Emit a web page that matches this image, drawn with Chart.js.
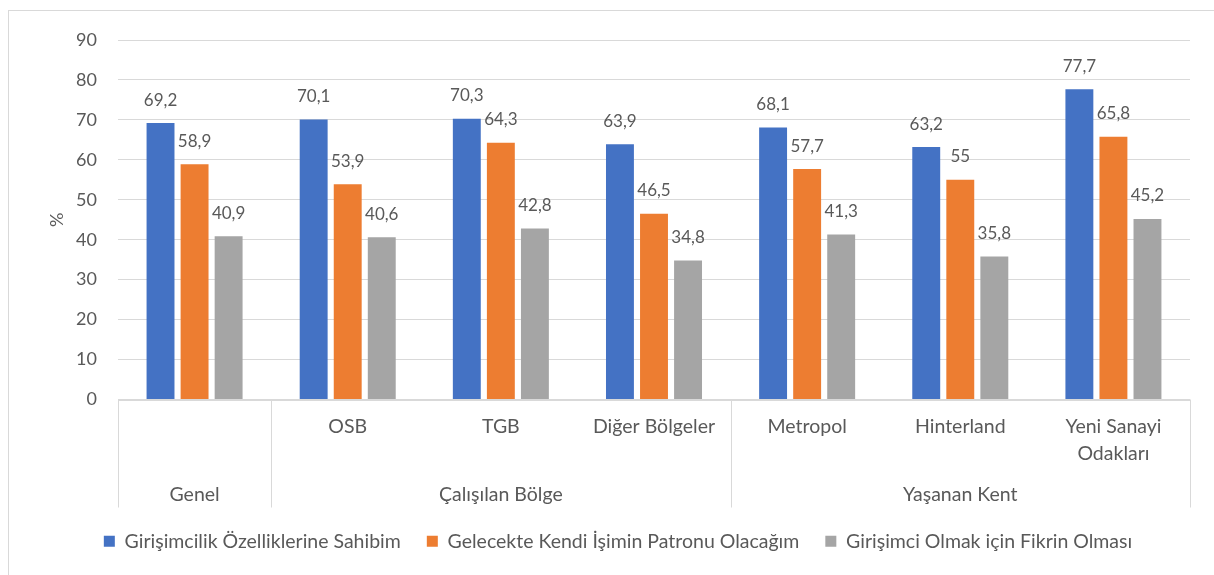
<!DOCTYPE html>
<html>
<head>
<meta charset="utf-8">
<script src="https://cdn.jsdelivr.net/npm/chart.js@4/dist/chart.umd.min.js"></script>
<style>
  html, body { margin: 0; padding: 0; background: #ffffff; }
  #wrap { position: absolute; left: 0; top: 0; width: 1214px; height: 575px; }
</style>
</head>
<body>
<div id="wrap"><canvas id="c" width="1214" height="575"></canvas></div>
<script>
const categories = ['Genel', 'OSB', 'TGB', 'Diğer Bölgeler', 'Metropol', 'Hinterland', 'Yeni Sanayi Odakları'];
const subLabels = [[], ['OSB'], ['TGB'], ['Diğer Bölgeler'], ['Metropol'], ['Hinterland'], ['Yeni Sanayi', 'Odakları']];
const groupLabels = ['Genel', 'Çalışılan Bölge', 'Yaşanan Kent'];
const groupSizes = [1, 3, 3];
const seriesNames = ['Girişimcilik Özelliklerine Sahibim', 'Gelecekte Kendi İşimin Patronu Olacağım', 'Girişimci Olmak için Fikrin Olması'];
const series1 = [69.2, 70.1, 70.3, 63.9, 68.1, 63.2, 77.7];
const series2 = [58.9, 53.9, 64.3, 46.5, 57.7, 55, 65.8];
const series3 = [40.9, 40.6, 42.8, 34.8, 41.3, 35.8, 45.2];
const yTicks = [0, 10, 20, 30, 40, 50, 60, 70, 80, 90];

const FONT = 'Lato, "Open Sans", sans-serif';
const TXT = '#595959';
const LINE = '#d9d9d9';
const WORD_SIZE = 19.5;

const borderPlugin = {
  id: 'outerBorder',
  beforeDraw(chart) {
    const ctx = chart.ctx;
    ctx.save();
    ctx.strokeStyle = LINE;
    ctx.lineWidth = 1;
    ctx.strokeRect(8.5, 10.5, 1300, 700);
    ctx.restore();
  }
};

const multiLevelPlugin = {
  id: 'multiLevel',
  afterDraw(chart) {
    const xs = chart.scales.x;
    const ctx = chart.ctx;
    const n = categories.length;
    const step = xs.getPixelForValue(1) - xs.getPixelForValue(0);
    const edge = i => xs.getPixelForValue(i) - step / 2;
    const top = chart.chartArea.bottom;
    ctx.save();
    ctx.strokeStyle = LINE;
    ctx.lineWidth = 1;
    ctx.beginPath();
    ctx.moveTo(edge(0), Math.round(top) + 0.5);
    ctx.lineTo(edge(n), Math.round(top) + 0.5);
    ctx.stroke();
    let b = 0;
    const bounds = [0];
    groupSizes.forEach(s => { b += s; bounds.push(b); });
    bounds.forEach(i => {
      const x = Math.round(edge(i)) + 0.5;
      ctx.beginPath();
      ctx.moveTo(x, top);
      ctx.lineTo(x, top + 108);
      ctx.stroke();
    });
    ctx.fillStyle = TXT;
    ctx.font = WORD_SIZE + 'px ' + FONT;
    ctx.textAlign = 'center';
    ctx.textBaseline = 'middle';
    subLabels.forEach((lines, i) => {
      lines.forEach((t, k) => ctx.fillText(t, xs.getPixelForValue(i), top + 27 + k * 27));
    });
    groupLabels.forEach((g, gi) => {
      const cx = (edge(bounds[gi]) + edge(bounds[gi + 1])) / 2;
      ctx.fillText(g, cx, top + 95);
    });
    ctx.restore();
  }
};

const dataLabelPlugin = {
  id: 'dataLabels',
  afterDatasetsDraw(chart) {
    const ctx = chart.ctx;
    ctx.save();
    ctx.fillStyle = TXT;
    ctx.font = '17px ' + FONT;
    ctx.textAlign = 'center';
    ctx.textBaseline = 'middle';
    chart.data.datasets.forEach((ds, di) => {
      const meta = chart.getDatasetMeta(di);
      meta.data.forEach((el, i) => {
        ctx.fillText(String(ds.data[i]).replace('.', ','), el.x, el.y - 23);
      });
    });
    ctx.restore();
  }
};

new Chart(document.getElementById('c'), {
  type: 'bar',
  data: {
    labels: categories,
    datasets: [
      { label: seriesNames[0], data: series1, backgroundColor: '#4472C4' },
      { label: seriesNames[1], data: series2, backgroundColor: '#ED7D31' },
      { label: seriesNames[2], data: series3, backgroundColor: '#A5A5A5' }
    ]
  },
  options: {
    responsive: false,
    animation: false,
    devicePixelRatio: 1,
    layout: { padding: { left: 46, right: 24, top: 40, bottom: 14 } },
    datasets: { bar: { categoryPercentage: 0.667, barPercentage: 0.82 } },
    scales: {
      x: {
        ticks: { display: false },
        grid: { display: false },
        border: { display: false },
        afterFit(s) { s.height = 106; }
      },
      y: {
        min: 0, max: 90,
        afterBuildTicks(s) { s.ticks = yTicks.map(v => ({ value: v })); },
        ticks: { color: TXT, font: { family: FONT, size: 18 }, padding: 21 },
        grid: { color: LINE, drawTicks: false },
        border: { display: false },
        title: { display: true, text: '%', color: TXT, font: { family: FONT, size: 18 }, padding: { top: 0, bottom: 4 } },
        afterFit(s) { s.width = 72; }
      }
    },
    plugins: {
      legend: {
        position: 'bottom',
        labels: { color: TXT, font: { family: FONT, size: WORD_SIZE }, boxWidth: 11, boxHeight: 11, padding: 26 }
      },
      tooltip: { enabled: false }
    }
  },
  plugins: [borderPlugin, multiLevelPlugin, dataLabelPlugin]
});
</script>
</body>
</html>
